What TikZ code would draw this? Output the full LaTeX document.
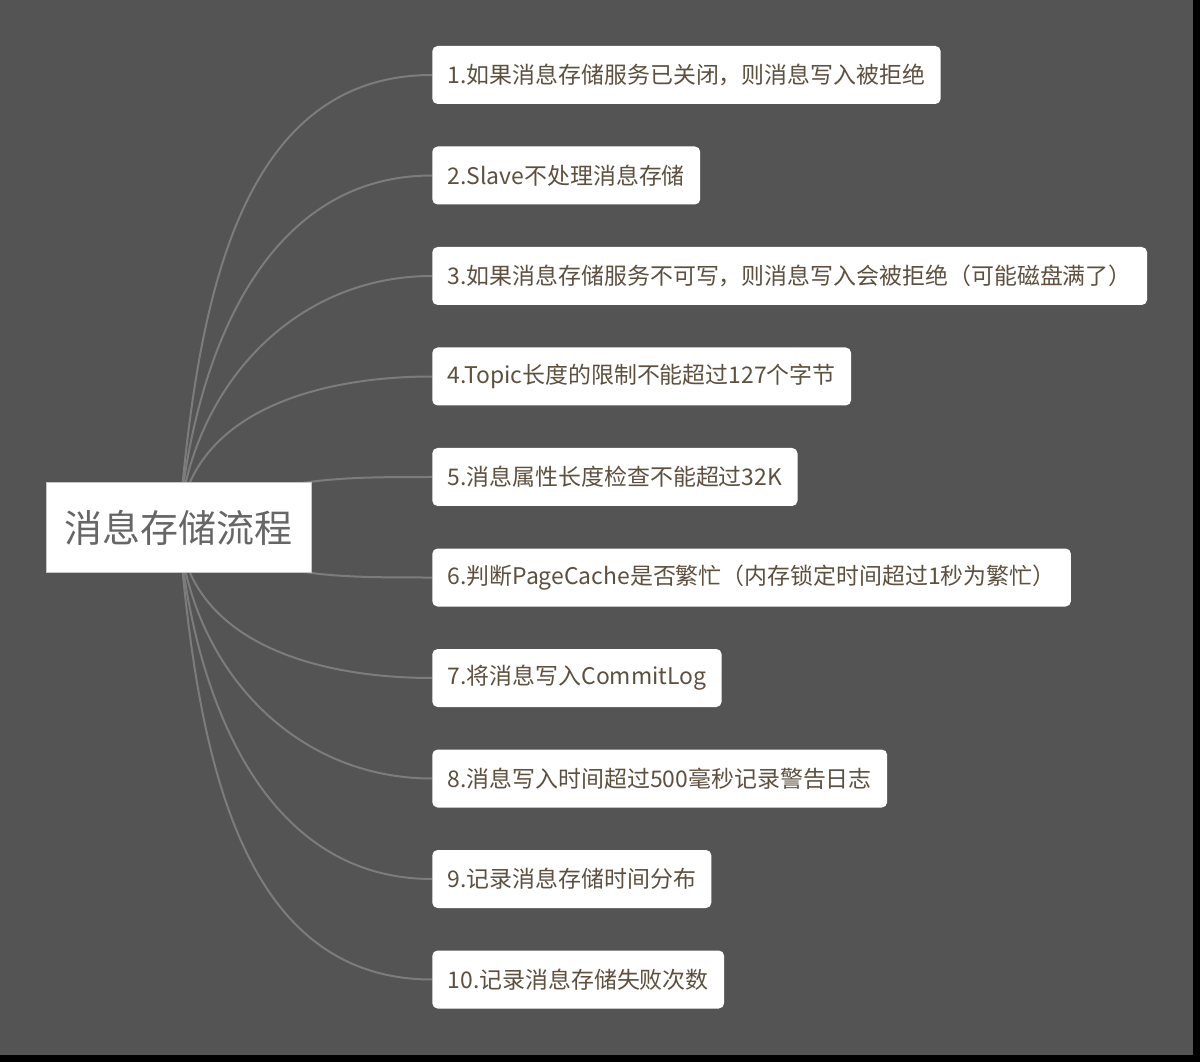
\documentclass[tikz,border=0pt]{standalone}
\usepackage{fontspec}
\setmainfont{Noto Sans CJK SC}
\definecolor{canvasgray}{HTML}{545454}
\definecolor{linkgray}{HTML}{7C7C7C}
\definecolor{roottext}{HTML}{666666}
\definecolor{steptext}{HTML}{5E503F}
\pgfdeclarelayer{edges}
\pgfsetlayers{edges,main}
\tikzset{
  rootbox/.style={fill=white, draw=gray!45, line width=0.75pt, minimum width=198.75pt,
    minimum height=66.75pt, inner sep=0pt, text=roottext,
    font=\fontsize{28.5pt}{32pt}\selectfont},
  stepbox/.style={fill=white, rounded corners=4pt, anchor=west, minimum height=43.5pt,
    inner xsep=11.5pt, inner ysep=0pt, text=steptext,
    font=\fontsize{17.2pt}{20pt}\selectfont},
  link/.style={draw=linkgray, line width=1.5pt},
}
\begin{document}
\begin{tikzpicture}[x=0.75pt, y=-0.75pt]

	% canvas
	\begin{pgfonlayer}{edges}
		\fill[black] (0,0) rectangle (1200,1062);
		\fill[canvasgray] (0,0) rectangle (1193,1055);
	\end{pgfonlayer}
	\useasboundingbox (0,0) rectangle (1200,1062);

	\node[rootbox] (flow) at (178.5,527.5) {消息存储流程};

	\foreach \i/\txt in {
		1/{1.如果消息存储服务已关闭，则消息写入被拒绝},
		2/{2.Slave不处理消息存储},
		3/{3.如果消息存储服务不可写，则消息写入会被拒绝（可能磁盘满了）},
		4/{4.Topic长度的限制不能超过127个字节},
		5/{5.消息属性长度检查不能超过32K},
		6/{6.判断PageCache是否繁忙（内存锁定时间超过1秒为繁忙）},
		7/{7.将消息写入CommitLog},
		8/{8.消息写入时间超过500毫秒记录警告日志},
		9/{9.记录消息存储时间分布},
		10/{10.记录消息存储失败次数}}
		\node[stepbox] (s\i) at (432,{75+(\i-1)*100.5}) {\txt};

	% connectors, behind the boxes
	\begin{pgfonlayer}{edges}
		\foreach \i/\ang in {1/85,2/85,3/85,4/85,5/30,6/-30,7/-85,8/-85,9/-85,10/-85}
			\draw[link] (flow.center) to[out=\ang, in=180] (s\i.west);
	\end{pgfonlayer}

\end{tikzpicture}
\end{document}
